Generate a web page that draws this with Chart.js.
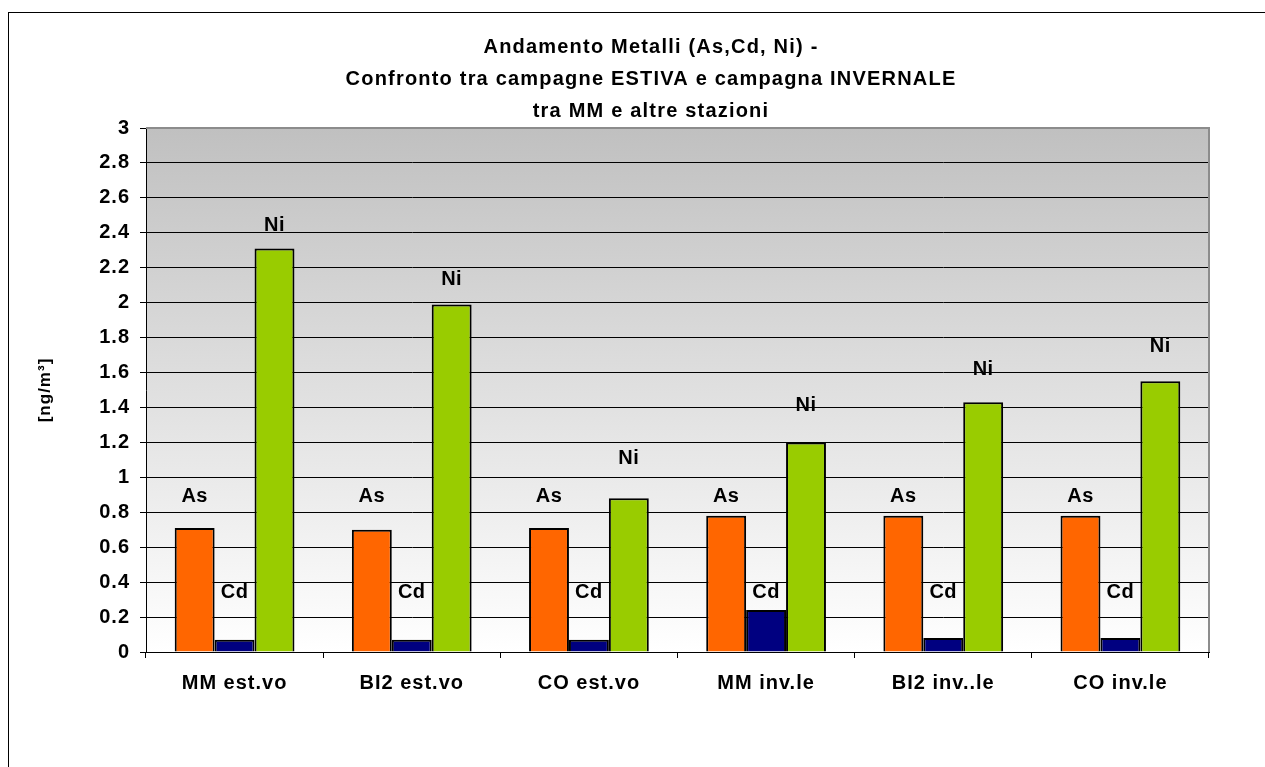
<!DOCTYPE html>
<html>
<head>
<meta charset="utf-8">
<script src="https://cdn.jsdelivr.net/npm/chart.js@4"></script>
<style>
  html, body { margin: 0; padding: 0; background: #fff; }
  canvas { display: block; }
</style>
</head>
<body>
<canvas id="metalliChart" width="1265" height="767"></canvas>
<script>
const categories = ['MM est.vo', 'BI2 est.vo', 'CO est.vo', 'MM inv.le', 'BI2 inv..le', 'CO inv.le'];
const asValues = [0.71, 0.70, 0.71, 0.78, 0.78, 0.78];
const cdValues = [0.07, 0.07, 0.07, 0.24, 0.08, 0.08];
const niValues = [2.31, 1.99, 0.88, 1.20, 1.43, 1.55];
// height (ng/m3) where each series name label sits, as placed in the original sheet
const asLabelAt = [0.89, 0.89, 0.89, 0.89, 0.89, 0.89];
const cdLabelAt = [0.34, 0.34, 0.34, 0.34, 0.34, 0.34];
const niLabelAt = [2.44, 2.13, 1.11, 1.41, 1.62, 1.75];
const titleLines = [
    'Andamento Metalli (As,Cd, Ni) -',
    'Confronto tra campagne ESTIVA e campagna INVERNALE',
    'tra MM e altre stazioni'
];
const yAxisTitle = '[ng/m³]';
const yMin = 0;
const yMax = 3;
const yStep = 0.2;

const fontFamily = "'Liberation Sans', Arial, sans-serif";

const excelLook = {
    id: 'excelLook',
    beforeUpdate(chart) {
        chart.ctx.letterSpacing = '1px';
    },
    beforeDraw(chart) {
        const ctx = chart.ctx;
        const a = chart.chartArea;
        ctx.save();
        ctx.fillStyle = '#fff';
        ctx.fillRect(0, 0, chart.width, chart.height);
        // outer frame
        ctx.strokeStyle = '#000';
        ctx.lineWidth = 1;
        ctx.strokeRect(8.5, 12.5, chart.width + 20, chart.height + 20);
        // plot area: grey to white gradient
        const g = ctx.createLinearGradient(0, a.top, 0, a.bottom);
        g.addColorStop(0, '#c0c0c0');
        g.addColorStop(1, '#ffffff');
        ctx.fillStyle = g;
        ctx.fillRect(a.left, a.top, a.right - a.left, a.bottom - a.top);
        // title
        ctx.fillStyle = '#000';
        ctx.font = 'bold 20px ' + fontFamily;
        ctx.letterSpacing = '1.2px';
        ctx.textAlign = 'center';
        ctx.textBaseline = 'middle';
        titleLines.forEach(function (t, i) {
            ctx.fillText(t, 651, 47 + i * 32);
        });
        ctx.restore();
        ctx.letterSpacing = '1px';
    },
    afterDatasetsDraw(chart) {
        const ctx = chart.ctx;
        const yScale = chart.scales.y;
        const labelAt = [asLabelAt, cdLabelAt, niLabelAt];
        ctx.save();
        ctx.fillStyle = '#000';
        ctx.font = 'bold 20px ' + fontFamily;
        ctx.letterSpacing = '0.5px';
        ctx.textAlign = 'center';
        ctx.textBaseline = 'middle';
        chart.data.datasets.forEach(function (ds, i) {
            const meta = chart.getDatasetMeta(i);
            meta.data.forEach(function (bar, j) {
                ctx.fillText(ds.label, bar.x, yScale.getPixelForValue(labelAt[i][j]));
            });
        });
        ctx.restore();
    },
    afterDraw(chart) {
        const ctx = chart.ctx;
        const a = chart.chartArea;
        ctx.save();
        ctx.strokeStyle = '#8c8c8c';
        ctx.lineWidth = 2;
        ctx.beginPath();
        ctx.moveTo(a.left, a.top);
        ctx.lineTo(a.right, a.top);
        ctx.lineTo(a.right, a.bottom);
        ctx.stroke();
        ctx.restore();
    }
};

const ctx = document.getElementById('metalliChart').getContext('2d');
const metalliChart = new Chart(ctx, {
    type: 'bar',
    data: {
        labels: categories,
        datasets: [
            {
                label: 'As',
                data: asValues,
                backgroundColor: '#ff6600',
                borderColor: '#000',
                borderWidth: 2
            },
            {
                label: 'Cd',
                data: cdValues,
                backgroundColor: '#000080',
                borderColor: '#000',
                borderWidth: 2
            },
            {
                label: 'Ni',
                data: niValues,
                backgroundColor: '#99cc00',
                borderColor: '#000',
                borderWidth: 2
            }
        ]
    },
    options: {
        responsive: false,
        animation: false,
        devicePixelRatio: 1,
        layout: {
            padding: { left: 8, right: 56, top: 128, bottom: 0 }
        },
        datasets: {
            bar: {
                categoryPercentage: 0.676,
                barPercentage: 1
            }
        },
        plugins: {
            legend: { display: false },
            tooltip: { enabled: false },
            title: { display: false }
        },
        scales: {
            x: {
                afterFit: function (s) { s.height = 115; },
                grid: {
                    offset: true,
                    drawOnChartArea: false,
                    drawTicks: true,
                    tickLength: 6,
                    color: '#000'
                },
                border: { color: '#000', width: 1 },
                ticks: {
                    color: '#000',
                    padding: 13,
                    font: { family: fontFamily, size: 20, weight: 'bold' }
                }
            },
            y: {
                min: yMin,
                max: yMax,
                afterFit: function (s) { s.width = 138; },
                grid: {
                    color: '#000',
                    lineWidth: 1,
                    tickLength: 6
                },
                border: { color: '#000', width: 1 },
                ticks: {
                    stepSize: yStep,
                    color: '#000',
                    padding: 10,
                    font: { family: fontFamily, size: 20, weight: 'bold' },
                    callback: function (v) { return +v.toFixed(1); }
                },
                title: {
                    display: true,
                    text: yAxisTitle,
                    color: '#000',
                    padding: { top: 27, bottom: 0 },
                    font: { family: fontFamily, size: 17, weight: 'bold' }
                }
            }
        }
    },
    plugins: [excelLook]
});
</script>
</body>
</html>
